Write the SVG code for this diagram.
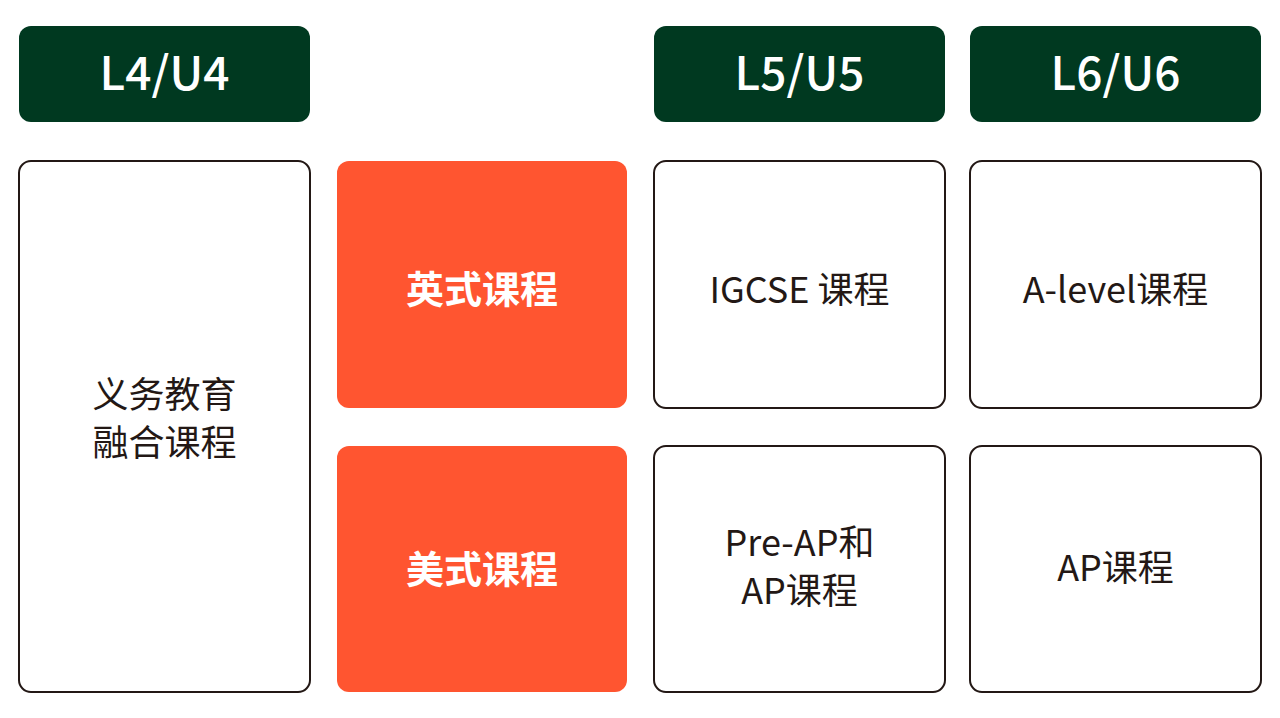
<svg xmlns="http://www.w3.org/2000/svg" width="1280" height="718" viewBox="0 0 1280 718">
<style>
.h{fill:#003920}
.w{fill:#fff;stroke:#231815;stroke-width:2}
.o{fill:#FF5530}
text{font-family:"Noto Sans CJK SC","Noto Sans",sans-serif;text-anchor:middle}
.ht{fill:#fff;font-size:46px;font-weight:500}
.t{fill:#231815;font-size:36px}
.ot{fill:#fff;font-size:38px;font-weight:700}
</style>
<rect width="1280" height="718" fill="#fff"/>
<g id="h1"><rect class="h" x="19" y="26" width="291" height="96" rx="12"/><text class="ht" x="164.5" y="90">L4/U4</text></g>
<g id="h2"><rect class="h" x="654" y="26" width="291" height="96" rx="12"/><text class="ht" x="799.5" y="90">L5/U5</text></g>
<g id="h3"><rect class="h" x="970" y="26" width="291" height="96" rx="12"/><text class="ht" x="1115.5" y="90">L6/U6</text></g>
<g id="n1"><rect class="w" x="19" y="161" width="291" height="531" rx="12"/><text class="t" x="164.5" y="408">义务教育</text><text class="t" x="164.5" y="456">融合课程</text></g>
<g id="n2"><rect class="o" x="337" y="161" width="290" height="247" rx="12"/><text class="ot" x="482" y="303">英式课程</text></g>
<g id="n3"><rect class="o" x="337" y="446" width="290" height="246" rx="12"/><text class="ot" x="482" y="583">美式课程</text></g>
<g id="n4"><rect class="w" x="654" y="161" width="291" height="247" rx="12"/><text class="t" x="799.5" y="303">IGCSE 课程</text></g>
<g id="n5"><rect class="w" x="970" y="161" width="291" height="247" rx="12"/><text class="t" x="1115.5" y="303">A-level课程</text></g>
<g id="n6"><rect class="w" x="654" y="446" width="291" height="246" rx="12"/><text class="t" x="799.5" y="556">Pre-AP和</text><text class="t" x="799.5" y="604">AP课程</text></g>
<g id="n7"><rect class="w" x="970" y="446" width="291" height="246" rx="12"/><text class="t" x="1115.5" y="581">AP课程</text></g>
<g id="connectors"/>
</svg>
